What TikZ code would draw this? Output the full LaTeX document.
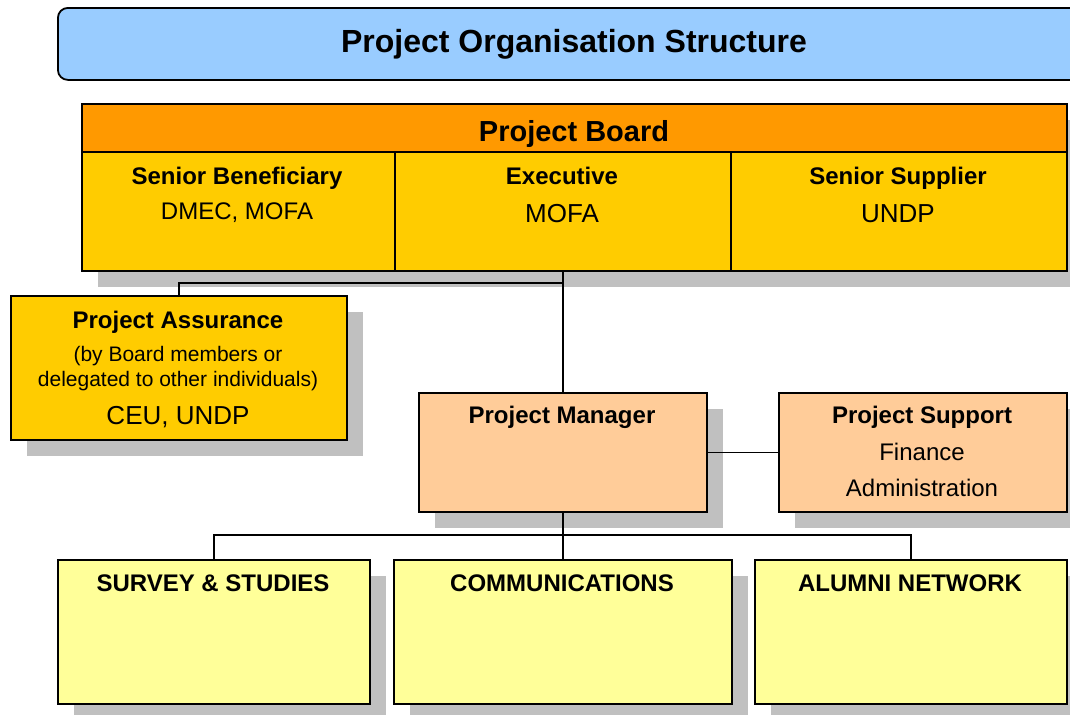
\documentclass[tikz,border=0pt]{standalone}
\usepackage{fontspec}
\setmainfont{Liberation Sans}
\usetikzlibrary{positioning, shadows}
\definecolor{titleblue}{HTML}{99CCFF}
\definecolor{boardorange}{HTML}{FF9900}
\definecolor{boardgold}{HTML}{FFCC00}
\definecolor{mgrpeach}{HTML}{FFCC99}
\definecolor{teamyellow}{HTML}{FFFF99}
\definecolor{shadowgray}{HTML}{C0C0C0}

\begin{document}
\begin{tikzpicture}[
    x=0.5pt, y=-0.5pt,
    box/.style={rectangle, draw=black, line width=0.9pt, anchor=north west, inner sep=0pt},
    shadowed/.style={box, general shadow={fill=shadowgray, shadow xshift=8pt, shadow yshift=-8pt}},
    titlebar/.style={box, rounded corners=5pt, fill=titleblue, minimum width=517pt, minimum height=36pt},
    boardcell/.style={shadowed, fill=boardgold, minimum width=168pt, minimum height=59.5pt},
    mgrbox/.style={shadowed, fill=mgrpeach, minimum width=144pt, minimum height=59.5pt},
    teambox/.style={shadowed, fill=teamyellow, minimum width=156pt, minimum height=72pt},
    hd/.style={anchor=base, inner sep=0pt, font=\bfseries\fontsize{12}{14}\selectfont},
    txt/.style={anchor=base, inner sep=0pt, font=\fontsize{12}{14}\selectfont},
    big/.style={anchor=base, inner sep=0pt, font=\fontsize{13}{15}\selectfont},
    small/.style={anchor=base, inner sep=0pt, font=\fontsize{10.5}{12.5}\selectfont},
    line/.style={line width=0.6pt}
]
\clip (0,0) rectangle (1070,714);

% title
\node (title) [titlebar] at (57,7) {};
\node (titleT) [anchor=base, inner sep=0pt, font=\bfseries\fontsize{16}{19}\selectfont] at (574,52) {Project Organisation Structure};

% project board
\node (boardhead) [shadowed, fill=boardorange, minimum width=492.5pt, minimum height=24pt] at (81,103) {};
\node (benef) [boardcell, minimum width=156.5pt] at (81,151) {};
\node (exec) [boardcell] at (394,151) {};
\node (supplier) [boardcell] at (730,151) {};
\node (boardT) [anchor=base, inner sep=0pt, font=\bfseries\fontsize{14.5}{17}\selectfont] at (574,141) {Project Board};
\node (benefT) [hd] at (237,184) {Senior Beneficiary};
\node (benefS) [txt] at (237,219) {DMEC, MOFA};
\node (execT) [hd] at (562,184) {Executive};
\node (execS) [big] at (562,222) {MOFA};
\node (supplierT) [hd] at (898,184) {Senior Supplier};
\node (supplierS) [big] at (898,222) {UNDP};

% assurance
\node (assure) [shadowed, fill=boardgold, minimum width=168pt, minimum height=72pt] at (10,295) {};
\node (assureT) [hd] at (178,328) {Project Assurance};
\node (assureA) [small] at (178,361) {(by Board members or};
\node (assureB) [small] at (178,386) {delegated to other individuals)};
\node (assureS) [big] at (178,424) {CEU, UNDP};

% manager and support
\node (mgr) [mgrbox] at (418,392) {};
\node (support) [mgrbox] at (778,392) {};
\node (mgrT) [hd] at (562,423) {Project Manager};
\node (supportT) [hd] at (922,423) {Project Support};
\node (supportA) [txt] at (922,460) {Finance};
\node (supportB) [txt] at (922,496) {Administration};

% teams
\node (survey) [teambox] at (57,559) {};
\node (comms) [teambox, minimum width=169pt] at (393,559) {};
\node (alumni) [teambox] at (754,559) {};
\node (surveyT) [hd] at (213,591) {SURVEY \& STUDIES};
\node (commsT) [hd] at (562,591) {COMMUNICATIONS};
\node (alumniT) [hd] at (910,591) {ALUMNI NETWORK};

% connectors
\coordinate (bus) at (562,535);
\draw [line] (exec.south) -- (mgr.north);
\draw [line] (assure.north) -- ++(0,-12) -| (exec.south);
\draw [line] (mgr.east) -- (support.west);
\draw [line] (mgr.south) -- (comms.north);
\draw [line] (survey.north) |- (bus) -| (alumni.north);
\end{tikzpicture}
\end{document}
